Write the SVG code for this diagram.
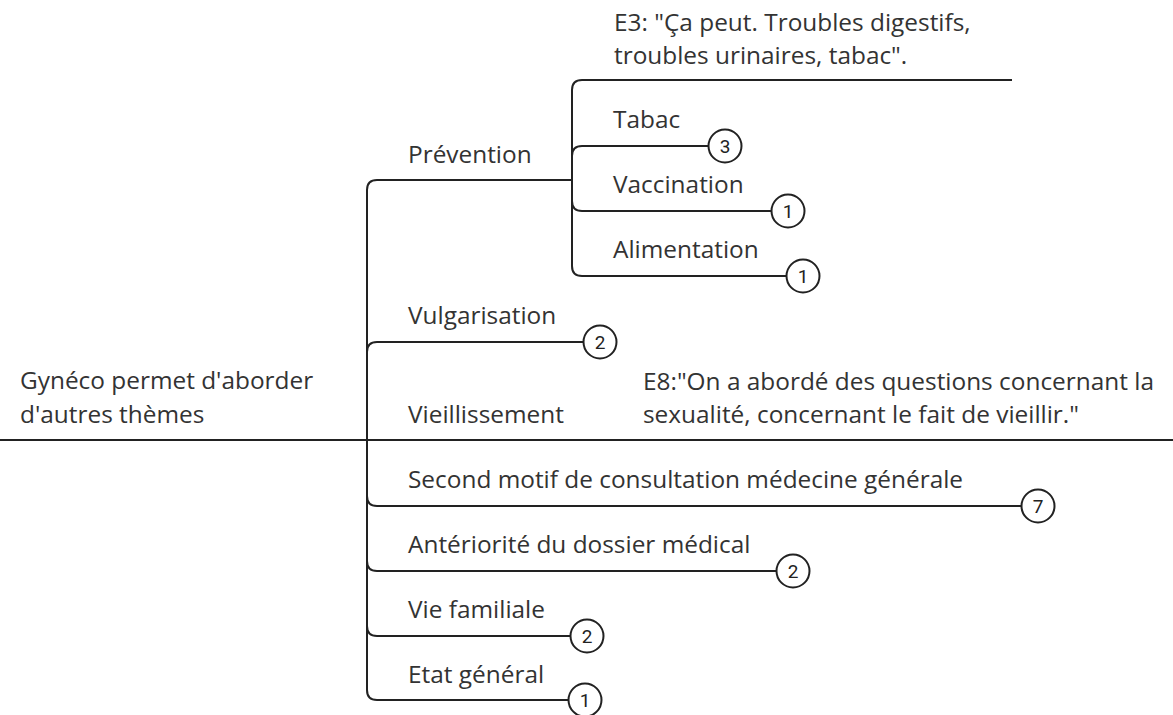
<svg xmlns="http://www.w3.org/2000/svg" width="1173" height="715" viewBox="0 0 1173 715">
<style>
.t{font-family:"Open Sans","Noto Sans",sans-serif;font-size:24.4px;fill:#333}
.c{fill:#fff;stroke:#222;stroke-width:2}
.n{font-family:"Roboto","Liberation Sans",sans-serif;font-size:19px;fill:#222;text-anchor:middle}
.l{fill:none;stroke:#222;stroke-width:2}
</style>
<rect width="1173" height="715" fill="#fff"/>
<g id="connectors">
<path class="l" d="M0 440 H367"/>
<path class="l" d="M367 440 V190 Q367 180 377 180 H572"/>
<path class="l" d="M367 440 V352 Q367 342 377 342 H584"/>
<path class="l" d="M367 440 H1173"/>
<path class="l" d="M367 440 V496 Q367 506 377 506 H1022"/>
<path class="l" d="M367 440 V561 Q367 571 377 571 H777"/>
<path class="l" d="M367 440 V626 Q367 636 377 636 H571"/>
<path class="l" d="M367 440 V690 Q367 700 377 700 H569"/>
<path class="l" d="M572 180 V90 Q572 80 582 80 H1012"/>
<path class="l" d="M572 180 V156 Q572 146 582 146 H709"/>
<path class="l" d="M572 180 V201 Q572 211 582 211 H772"/>
<path class="l" d="M572 180 V266 Q572 276 582 276 H787"/>
</g>
<g id="root"><text class="t" x="20" y="389">Gynéco permet d'aborder</text><text class="t" x="20" y="423">d'autres thèmes</text></g>
<g id="prevention"><text class="t" x="408" y="163">Prévention</text></g>
<g id="e3"><text class="t" x="614" y="31">E3: "Ça peut. Troubles digestifs,</text><text class="t" x="614" y="64">troubles urinaires, tabac".</text></g>
<g id="tabac"><text class="t" x="613" y="128">Tabac</text><circle class="c" cx="725" cy="146" r="16.5"/><text class="n" x="725" y="153">3</text></g>
<g id="vaccination"><text class="t" x="613" y="193">Vaccination</text><circle class="c" cx="788" cy="211" r="16.5"/><text class="n" x="788" y="218">1</text></g>
<g id="alimentation"><text class="t" x="613" y="258">Alimentation</text><circle class="c" cx="803" cy="276" r="16.5"/><text class="n" x="803" y="283">1</text></g>
<g id="vulgarisation"><text class="t" x="408" y="324">Vulgarisation</text><circle class="c" cx="600" cy="342" r="16.5"/><text class="n" x="600" y="349">2</text></g>
<g id="vieillissement"><text class="t" x="408" y="423">Vieillissement</text></g>
<g id="e8"><text class="t" x="643" y="390">E8:"On a abordé des questions concernant la</text><text class="t" x="643" y="423">sexualité, concernant le fait de vieillir."</text></g>
<g id="second"><text class="t" x="408" y="488">Second motif de consultation médecine générale</text><circle class="c" cx="1038" cy="506" r="16.5"/><text class="n" x="1038" y="513">7</text></g>
<g id="anteriorite"><text class="t" x="408" y="553">Antériorité du dossier médical</text><circle class="c" cx="793" cy="571" r="16.5"/><text class="n" x="793" y="578">2</text></g>
<g id="vie"><text class="t" x="408" y="618">Vie familiale</text><circle class="c" cx="587" cy="636" r="16.5"/><text class="n" x="587" y="643">2</text></g>
<g id="etat"><text class="t" x="408" y="683">Etat général</text><circle class="c" cx="585" cy="700" r="16.5"/><text class="n" x="585" y="707">1</text></g>
</svg>
